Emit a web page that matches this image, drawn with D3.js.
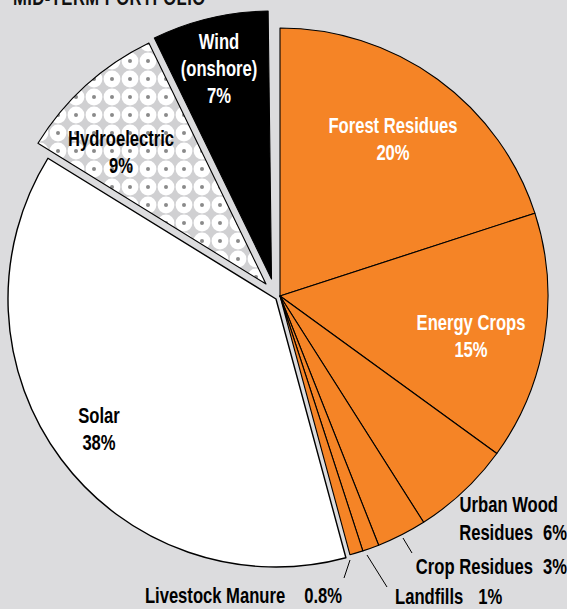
<!DOCTYPE html>
<html><head><meta charset="utf-8">
<script src="https://cdn.jsdelivr.net/npm/d3@7/dist/d3.min.js"></script>
<style>
html,body{margin:0;padding:0;background:#dcdcde;}
svg{display:block;}
text{font-family:"Liberation Sans",Arial,sans-serif;font-weight:bold;}
</style></head>
<body>
<script>
// ---- data ----
const categories = ["Forest Residues","Energy Crops","Urban Wood Residues","Crop Residues","Landfills","Livestock Manure","Solar","Hydroelectric","Wind (onshore)"];
const values = [20, 15, 6, 3, 1, 0.8, 38, 9, 7];
const valueLabels = ["20%","15%","6%","3%","1%","0.8%","38%","9%","7%"];
const title = "MID-TERM PORTFOLIO";

// ---- layout / style ----
const W = 567, H = 609;
const cx = 280, cy = 296, R = 268;
const SX = 0.755;         // horizontal condensing of the bold face
const FS = 22;            // font size
const LH = 27;            // line height
const ORANGE = "#f58426";
const style = {
  "Forest Residues":    {fill:ORANGE, off:[0,0],  text:"#fff", pos:[393,139.5], lines:["Forest Residues"]},
  "Energy Crops":       {fill:ORANGE, off:[0,0],  text:"#fff", pos:[471,336.5], lines:["Energy Crops"]},
  "Urban Wood Residues":{fill:ORANGE, off:[0,0]},
  "Crop Residues":      {fill:ORANGE, off:[0,0]},
  "Landfills":          {fill:ORANGE, off:[0,0]},
  "Livestock Manure":   {fill:ORANGE, off:[0,0]},
  "Solar":              {fill:"#ffffff", off:[-4,3], text:"#000", pos:[99,429.5], lines:["Solar"]},
  "Hydroelectric":      {fill:"url(#hydro)", off:[-14,-12], text:"#000", pos:[121,152.5], lines:["Hydroelectric"]},
  "Wind (onshore)":     {fill:"#000000", off:[-8.5,-17], text:"#fff", pos:[219,69], lines:["Wind","(onshore)"]}
};
// outer labels: leader end point and text placement
const outer = {
  "Urban Wood Residues": {line:null, rows:[{name:"Urban Wood", x:558, y:512, a:"end"},{name:"Residues", gap:10, x:567, y:540, a:"end", val:true}]},
  "Crop Residues": {line:[[403,538],[412,553]], rows:[{name:"Crop Residues", gap:10, x:567, y:574, a:"end", val:true}]},
  "Landfills": {line:[[367,555],[387,587]], rows:[{name:"Landfills", gap:15, x:395, y:604, a:"start", val:true}]},
  "Livestock Manure": {line:[[350,560],[344,578]], rows:[{name:"Livestock Manure", gap:19, x:342, y:603, a:"end", val:true}]}
};

const svg = d3.select("body").append("svg").attr("width",W).attr("height",H);
svg.append("rect").attr("width",W).attr("height",H).attr("fill","#dcdcde");

const defs = svg.append("defs");
const pat = defs.append("pattern").attr("id","hydro").attr("patternUnits","userSpaceOnUse")
  .attr("x",-1).attr("y",2).attr("width",18).attr("height",18);
pat.append("rect").attr("width",18).attr("height",18).attr("fill","#d0d0d2");
pat.append("circle").attr("cx",9).attr("cy",9).attr("r",8.4).attr("fill","#ffffff");
pat.append("circle").attr("cx",9).attr("cy",9).attr("r",2).attr("fill","#8a8a8a");

// condensed text helper
function ctext(parent, x, y, anchor, fill, size){
  return parent.append("g").attr("transform",`translate(${x},${y}) scale(${SX},1)`)
    .append("text").attr("x",0).attr("y",0).attr("text-anchor",anchor)
    .attr("fill",fill).attr("font-size",size||FS);
}

// title (mostly cropped off the top)
ctext(svg, 13, 5, "start", "#111", 22).style("letter-spacing","0.6px").text(title);

const data = categories.map((c,i)=>({name:c, value:values[i], label:valueLabels[i]}));
const total = d3.sum(values);
const pie = d3.pie().value(d=>d.value).sort(null).startAngle(0).endAngle(2*Math.PI*total/100);
const arcs = pie(data);
const arc = d3.arc().innerRadius(0).outerRadius(R);

const g = svg.append("g").attr("transform",`translate(${cx},${cy})`);

g.selectAll("path.slice").data(arcs).join("path")
  .attr("class","slice")
  .attr("transform",d=>{const o=style[d.data.name].off;return `translate(${o[0]},${o[1]})`;})
  .attr("d",arc)
  .attr("fill",d=>style[d.data.name].fill)
  .attr("stroke","#000")
  .attr("stroke-width",d=>d.data.name==="Solar"?1.4:1.1)
  .attr("stroke-linejoin","round");

// inner labels
arcs.filter(d=>style[d.data.name].pos).forEach(d=>{
  const s = style[d.data.name];
  const lines = s.lines.concat([d.data.label]);
  const y0 = s.pos[1] - (lines.length-1)*LH/2;
  lines.forEach((ln,i)=>{
    ctext(svg, s.pos[0], y0+i*LH+7, "middle", s.text).text(ln);
  });
});

// outer labels
arcs.filter(d=>outer[d.data.name]).forEach(d=>{
  const o = outer[d.data.name];
  if(o.line){
    svg.append("line")
      .attr("x1",o.line[0][0]).attr("y1",o.line[0][1])
      .attr("x2",o.line[1][0]).attr("y2",o.line[1][1])
      .attr("stroke","#000").attr("stroke-width",1);
  }
  o.rows.forEach(r=>{
    const t = ctext(svg, r.x, r.y, r.a, "#000");
    t.append("tspan").text(r.name);
    if(r.val) t.append("tspan").attr("dx", r.gap/SX).text(d.data.label);
  });
});
</script>
</body></html>
